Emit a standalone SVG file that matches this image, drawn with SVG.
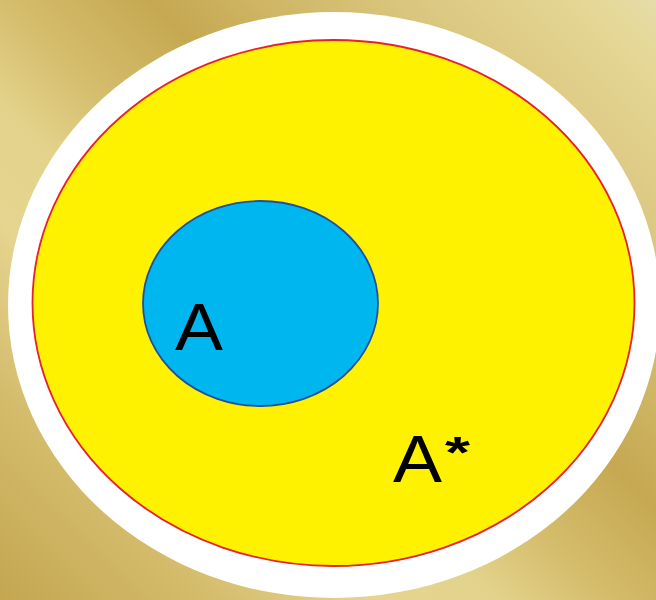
<svg xmlns="http://www.w3.org/2000/svg" width="656" height="600" viewBox="0 0 656 600">
<defs>
<linearGradient id="bg" gradientUnits="userSpaceOnUse" x1="0" y1="600" x2="628" y2="-28">
<stop offset="0" stop-color="#c4a650"/>
<stop offset="0.167" stop-color="#d4bc6c"/>
<stop offset="0.303" stop-color="#e6d590"/>
<stop offset="0.398" stop-color="#e2d28a"/>
<stop offset="0.478" stop-color="#d6be6e"/>
<stop offset="0.597" stop-color="#c6a851"/>
<stop offset="0.796" stop-color="#dac67e"/>
<stop offset="0.955" stop-color="#e6d898"/>
<stop offset="1" stop-color="#e4dcaa"/>
</linearGradient>
<style>
.lbl{font-family:"Liberation Sans",Arial,sans-serif;font-size:66px;fill:#000}
</style>
</defs>
<rect x="0" y="0" width="656" height="600" fill="url(#bg)"/>
<ellipse cx="334" cy="305" rx="326" ry="293" fill="#ffffff"/>
<g id="universe">
<ellipse cx="333.5" cy="303" rx="301" ry="263" fill="#fff200" stroke="#e8202a" stroke-width="1.8"/>
<text class="lbl" x="393" y="482"><tspan textLength="49" lengthAdjust="spacingAndGlyphs">A</tspan><tspan x="445" y="468" font-weight="bold" font-size="44" textLength="25" lengthAdjust="spacingAndGlyphs">*</tspan></text>
</g>
<g id="setA">
<ellipse cx="260.5" cy="303.5" rx="117.5" ry="102.5" fill="#00b6ef" stroke="#1f4fa0" stroke-width="1.8"/>
<text class="lbl" x="175" y="350" textLength="48" lengthAdjust="spacingAndGlyphs">A</text>
</g>
<g id="connectors"/>
</svg>
